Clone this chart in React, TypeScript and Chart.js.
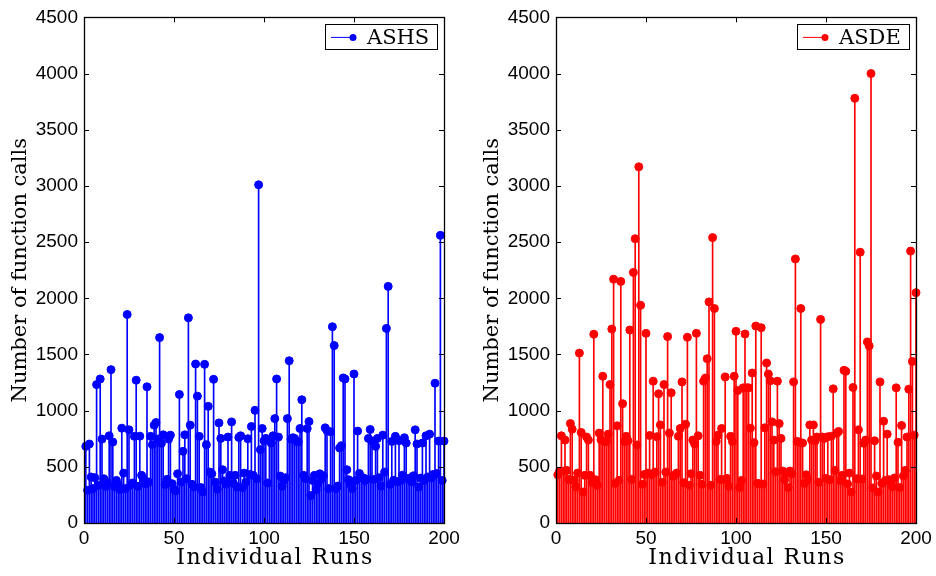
import React, { useEffect, useRef } from "react";
import { Chart, registerables } from "chart.js";

Chart.register(...registerables);

const runs: number[] = Array.from({ length: 200 }, (_, i) => i + 1);

const ashsCalls: number[] = [
  682, 291, 703, 409, 306, 403, 1232, 335, 1282, 747,
  394, 326, 360, 776, 1365, 721, 321, 379, 340, 297,
  844, 444, 306, 1856, 829, 340, 356, 771, 1271, 326,
  773, 424, 394, 350, 1212, 365, 771, 697, 871, 894,
  747, 1650, 709, 785, 340, 388, 747, 782, 350, 300,
  285, 438, 1144, 365, 638, 785, 394, 1826, 871, 344,
  321, 1415, 1129, 771, 315, 276, 1412, 697, 1038, 453,
  438, 1279, 362, 300, 891, 753, 474, 374, 344, 765,
  424, 900, 353, 424, 321, 762, 776, 315, 444, 365,
  750, 432, 859, 424, 1003, 394, 3010, 653, 841, 732,
  753, 356, 732, 712, 776, 929, 1282, 765, 418, 326,
  380, 403, 929, 1444, 747, 759, 753, 729, 720, 841,
  1097, 424, 394, 841, 903, 244, 379, 424, 297, 350,
  438, 394, 420, 847, 823, 306, 812, 1747, 1579, 306,
  329, 668, 688, 1291, 1282, 474, 385, 344, 306, 1326,
  380, 818, 441, 403, 403, 379, 390, 753, 832, 729,
  388, 682, 753, 403, 329, 782, 453, 1732, 2106, 344,
  726, 380, 771, 365, 732, 380, 426, 759, 712, 394,
  400, 365, 420, 829, 703, 321, 400, 712, 379, 776,
  410, 791, 400, 432, 1244, 440, 729, 2560, 379, 729,
];

const asdeCalls: number[] = [
  429, 460, 776, 462, 738, 468, 388, 885, 835, 379,
  321, 444, 1512, 806, 276, 424, 765, 738, 424, 362,
  1680, 385, 335, 800, 741, 1306, 723, 726, 791, 1232,
  1726, 2170, 353, 865, 379, 2150, 1062, 726, 771, 732,
  1718, 388, 2230, 2530, 694, 3170, 1938, 344, 432, 1688,
  444, 779, 432, 1262, 453, 768, 1150, 873, 362, 1232,
  453, 1659, 800, 1159, 418, 429, 444, 771, 841, 1256,
  359, 879, 1653, 335, 438, 738, 703, 1688, 776, 424,
  344, 1262, 1290, 1462, 1968, 335, 2540, 1909, 726, 782,
  388, 841, 388, 1300, 397, 326, 771, 726, 1306, 1706,
  1179, 315, 379, 1203, 1682, 1203, 1203, 844, 1335, 715,
  1753, 353, 347, 1738, 347, 847, 1424, 1326, 1265, 900,
  738, 456, 1262, 885, 753, 462, 385, 440, 315, 462,
  438, 1256, 2350, 726, 720, 1909, 712, 353, 429, 385,
  873, 738, 873, 732, 765, 362, 1812, 765, 753, 397,
  768, 385, 773, 1194, 468, 800, 815, 379, 424, 1359,
  1350, 347, 444, 276, 1206, 3780, 394, 829, 2410, 391,
  709, 738, 1612, 1576, 4000, 312, 732, 418, 276, 1256,
  353, 906, 379, 791, 385, 356, 321, 400, 1203, 718,
  315, 868, 418, 468, 765, 1191, 2420, 1438, 782, 2050,
];

const yTicks: number[] = [0, 500, 1000, 1500, 2000, 2500, 3000, 3500, 4000, 4500];
const xTicks: number[] = [0, 50, 100, 150, 200];

const xTitle = "Individual Runs";
const yTitle = "Number of function calls";

const SERIF = "'DejaVu Serif', serif";
const SANS = "'Liberation Sans', Arial, sans-serif";

function frameAndLegendPlugin(label: string, color: string) {
  return {
    id: "frameLegend",
    afterDatasetsDraw(chart: any) {
      const { ctx, chartArea } = chart;
      const { left, right, top, bottom } = chartArea;
      const xs = chart.scales.x;
      const ys = chart.scales.y;
      ctx.save();
      ctx.strokeStyle = "#000";
      ctx.lineWidth = 1;
      // inward ticks
      ctx.beginPath();
      const tl = 5;
      yTicks.forEach((v) => {
        const py = Math.round(ys.getPixelForValue(v)) + 0.5;
        ctx.moveTo(left, py);
        ctx.lineTo(left + tl, py);
        ctx.moveTo(right, py);
        ctx.lineTo(right - tl, py);
      });
      xTicks.forEach((v) => {
        const px = Math.round(xs.getPixelForValue(v)) + 0.5;
        ctx.moveTo(px, bottom);
        ctx.lineTo(px, bottom - tl);
        ctx.moveTo(px, top);
        ctx.lineTo(px, top + tl);
      });
      ctx.stroke();
      // frame
      ctx.lineWidth = 1.3;
      ctx.strokeRect(Math.round(left) + 0.5, Math.round(top) + 0.5, Math.round(right - left), Math.round(bottom - top));
      // legend
      const bx = right - 119;
      const by = top + 7;
      const bw = 112;
      const bh = 25;
      ctx.fillStyle = "#fff";
      ctx.fillRect(bx, by, bw, bh);
      ctx.lineWidth = 1;
      ctx.strokeStyle = "#000";
      ctx.strokeRect(Math.round(bx) + 0.5, Math.round(by) + 0.5, bw, bh);
      const cy = by + bh / 2 + 0.5;
      ctx.strokeStyle = color;
      ctx.beginPath();
      ctx.moveTo(bx + 6, cy);
      ctx.lineTo(bx + 28, cy);
      ctx.stroke();
      ctx.fillStyle = color;
      ctx.beginPath();
      ctx.arc(bx + 28, cy, 3.5, 0, Math.PI * 2);
      ctx.fill();
      ctx.fillStyle = "#000";
      ctx.font = `21px ${SERIF}`;
      ctx.textBaseline = "middle";
      ctx.textAlign = "left";
      ctx.fillText(label, bx + 42, cy + 1);
      // x axis title (letter-spaced, like the LaTeX label)
      ctx.font = `22px ${SERIF}`;
      try {
        (ctx as any).letterSpacing = "1.5px";
      } catch (e) {}
      ctx.textAlign = "center";
      ctx.textBaseline = "middle";
      ctx.fillText(xTitle, (left + right) / 2 + 11, 558);
      ctx.restore();
    },
  };
}

function Panel({ values, label, color, left }: { values: number[]; label: string; color: string; left: number }) {
  const ref = useRef<HTMLCanvasElement | null>(null);
  useEffect(() => {
    if (!ref.current) return;
    const pts = runs.map((r, i) => ({ x: r, y: values[i] }));
    const chart = new Chart(ref.current, {
      type: "bar",
      data: {
        datasets: [
          {
            type: "scatter",
            label,
            data: pts,
            showLine: false,
            pointRadius: 4,
            pointBorderWidth: 1,
            pointBackgroundColor: color,
            pointBorderColor: color,
            clip: false,
            order: 0,
          } as any,
          {
            type: "bar",
            label: label + " stems",
            data: pts,
            barThickness: 1,
            backgroundColor: color,
            borderWidth: 0,
            order: 1,
          } as any,
        ],
      },
      options: {
        responsive: false,
        animation: false,
        layout: { padding: { top: 13, right: 24, left: 0, bottom: 0 } },
        plugins: { legend: { display: false }, tooltip: { enabled: false } },
        scales: {
          x: {
            type: "linear",
            min: 0,
            max: 200,
            offset: false,
            grid: { display: false, drawTicks: false, tickLength: 0, offset: false },
            border: { display: false },
            afterBuildTicks: (s: any) => {
              s.ticks = xTicks.map((v) => ({ value: v }));
            },
            afterFit: (s: any) => {
              s.height = 53;
            },
            ticks: {
              autoSkip: false,
              maxRotation: 0,
              padding: 4,
              color: "#000",
              font: { family: SANS, size: 19 },
              callback: (v: any) => String(v),
            },
            title: { display: false, text: xTitle },
          },
          y: {
            type: "linear",
            min: 0,
            max: 4500,
            grid: { display: false, drawTicks: false, tickLength: 0 },
            border: { display: false },
            afterBuildTicks: (s: any) => {
              s.ticks = yTicks.map((v) => ({ value: v }));
            },
            afterFit: (s: any) => {
              s.width = 84;
            },
            ticks: {
              padding: 6,
              color: "#000",
              font: { family: SANS, size: 19 },
              callback: (v: any) => String(v),
            },
            title: {
              display: true,
              text: yTitle,
              color: "#000",
              font: { family: SERIF, size: 21 },
              padding: { top: 8, bottom: 0 },
            },
          },
        },
      } as any,
      plugins: [frameAndLegendPlugin(label, color)],
    });
    return () => chart.destroy();
  }, [values, label, color]);
  return (
    <canvas
      ref={ref}
      width={468}
      height={576}
      style={{ position: "absolute", left, top: 0, width: 468, height: 576, display: "block" }}
    />
  );
}

export default function App() {
  return (
    <div
      style={{
        position: "fixed",
        left: 0,
        top: 0,
        width: 936,
        height: 576,
        overflow: "hidden",
        background: "#fff",
      }}
    >
      <Panel values={ashsCalls} label="ASHS" color="#0000ff" left={0} />
      <Panel values={asdeCalls} label="ASDE" color="#ff0000" left={472} />
    </div>
  );
}
